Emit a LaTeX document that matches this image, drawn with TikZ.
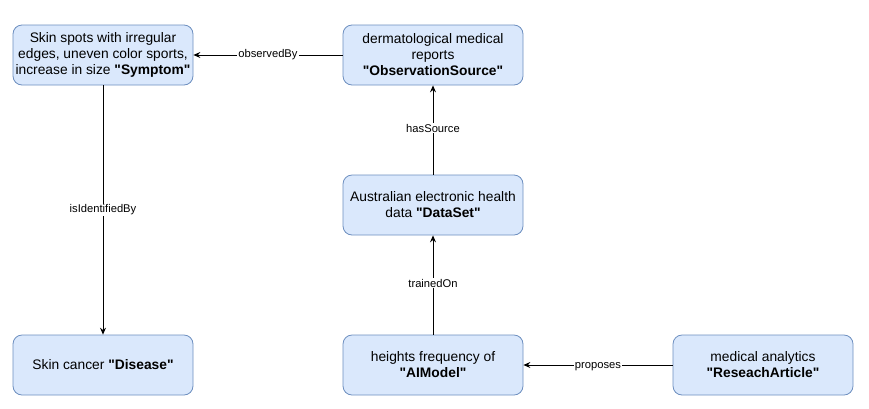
\documentclass[tikz,border=0pt]{standalone}
\usepackage{fontspec}
\setmainfont{Liberation Sans}
\usepackage{tikz}
\usetikzlibrary{arrows,arrows.meta}
\definecolor{boxfill}{HTML}{DAE8FC}
\definecolor{boxline}{HTML}{6C8EBF}
\newcommand{\qname}[1]{\textbf{\textquotedbl#1\textquotedbl}}
\tikzset{
  entity/.style={draw=boxline, fill=boxfill, rounded corners=9pt, line width=0.8pt,
    minimum width=180pt, minimum height=60pt, inner sep=2pt,
    align=center, font=\fontsize{13.8}{16}\selectfont},
  rel/.style={draw, line width=0.8pt, -{Stealth[length=7pt,width=6pt,inset=2.5pt]}},
  rellabel/.style={fill=white, inner sep=1pt, font=\fontsize{11.2}{13}\selectfont}
}
\begin{document}
\begin{tikzpicture}[x=1pt,y=-1pt]
\useasboundingbox (0,0) rectangle (869,408);
\node[entity] (symptom) at (103,55) {Skin spots with irregular\\edges, uneven color sports,\\increase in size \qname{Symptom}};
\node[entity] (source) at (433,55) {dermatological medical\\reports\\\qname{ObservationSource}};
\node[entity] (dataset) at (433,205) {Australian electronic health\\data \qname{DataSet}};
\node[entity] (disease) at (103,365) {Skin cancer \qname{Disease}};
\node[entity] (aimodel) at (433,365) {heights frequency of\\\qname{AIModel}};
\node[entity] (article) at (763,365) {medical analytics\\\qname{ReseachArticle}};

\draw[rel] (source) -- node[rellabel] {observedBy} (symptom);
\draw[rel] (symptom) -- node[rellabel] {isIdentifiedBy} (disease);
\draw[rel] (dataset) -- node[rellabel, yshift=2pt] {hasSource} (source);
\draw[rel] (aimodel) -- node[rellabel, yshift=2pt] {trainedOn} (dataset);
\draw[rel] (article) -- node[rellabel, yshift=-2pt] {proposes} (aimodel);
\end{tikzpicture}
\end{document}
